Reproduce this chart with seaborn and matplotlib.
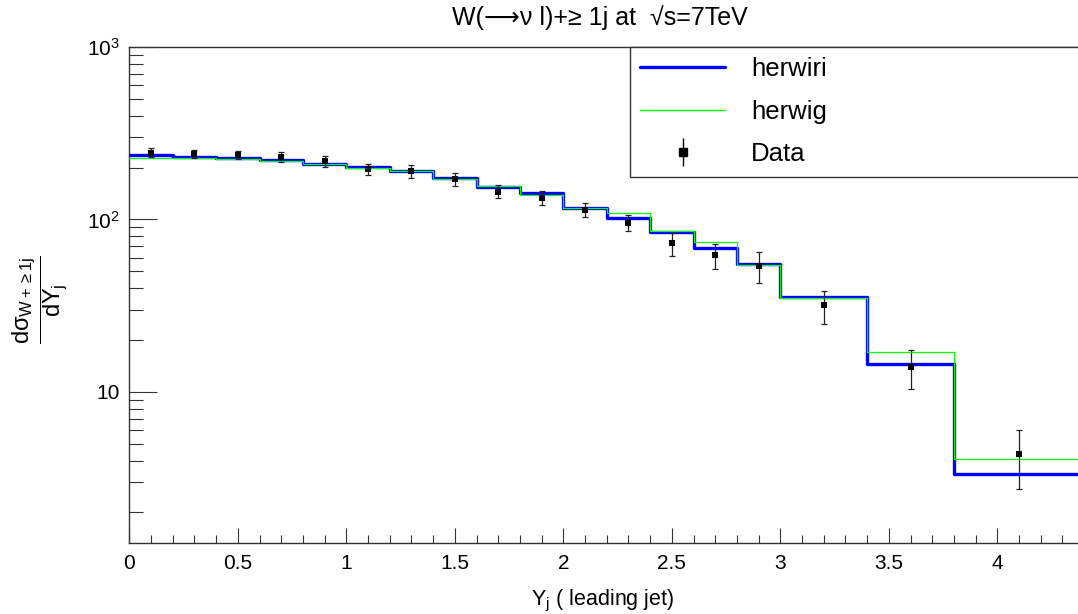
import numpy as np
import pandas as pd
import matplotlib
matplotlib.use("Agg")
import matplotlib.pyplot as plt
from matplotlib.lines import Line2D
from matplotlib.ticker import LogLocator, FixedLocator, FuncFormatter, MultipleLocator, NullFormatter
import seaborn as sns

# ---------------- data ----------------
bin_edges = [0.0, 0.2, 0.4, 0.6, 0.8, 1.0, 1.2, 1.4, 1.6, 1.8, 2.0, 2.2, 2.4, 2.6, 2.8, 3.0, 3.4, 3.8, 4.4]
herwiri = [237, 231, 226, 221, 209, 201, 191, 175, 154, 142, 116, 102, 84.9, 68.5, 55.4, 35.6, 14.5, 3.34]
herwig = [226, 227, 224, 218, 210, 199, 192, 172, 157, 139, 117, 109, 85.2, 74.3, 54.8, 35.1, 17.1, 4.09]
data_x = [0.1, 0.3, 0.5, 0.7, 0.9, 1.1, 1.3, 1.5, 1.7, 1.9, 2.1, 2.3, 2.5, 2.7, 2.9, 3.2, 3.6, 4.1]
data_y = [244, 240, 236, 230, 217, 195, 191, 171, 145, 134, 114, 95.7, 72.6, 61.8, 54, 31.7, 13.9, 4.37]
data_err = [14, 13, 12, 15, 16, 14, 16, 14, 12.5, 12.5, 10.5, 10, 11, 10, 11, 7, 3.5, 1.65]
y_tick_values = [10, 100, 1000]
y_tick_labels = ["10", "$10^{2}$", "$10^{3}$"]
x_tick_values = [0, 0.5, 1, 1.5, 2, 2.5, 3, 3.5, 4]

title = "W(\u27f6\u03bd l)+\u2265 1j at  \u221as=7TeV"
xlabel = r"Y$_{\mathregular{j}}$ ( leading jet)"
ylabel = r"$\dfrac{d\sigma_{W+\geq1j}}{dY_{j}}$"

# ---------------- style ----------------
sns.set_style("white")
plt.rcParams["font.family"] = ["Liberation Sans", "DejaVu Sans"]
plt.rcParams["mathtext.fontset"] = "custom"
plt.rcParams["mathtext.rm"] = "Liberation Sans"
plt.rcParams["mathtext.it"] = "Liberation Sans"
plt.rcParams["mathtext.bf"] = "Liberation Sans:bold"
plt.rcParams["mathtext.sf"] = "Liberation Sans"
plt.rcParams["text.color"] = "black"
plt.rcParams["xtick.labelcolor"] = "black"
plt.rcParams["ytick.labelcolor"] = "black"
plt.rcParams["axes.labelcolor"] = "black"

W, H = 1078, 614
fig = plt.figure(figsize=(W / 100, H / 100), dpi=100)
x0_px, px_per_unit = 129.3, 217.0
xmax = 4.4
ax_w = xmax * px_per_unit
ax_bottom_px, ax_top_px = 543, 47
ax_h = ax_bottom_px - ax_top_px
ax = fig.add_axes([x0_px / W, (H - ax_bottom_px) / H, ax_w / W, ax_h / H])

edges = np.array(bin_edges)
df_wiri = pd.DataFrame({"x": edges, "y": herwiri + [herwiri[-1]]})
df_wig = pd.DataFrame({"x": edges, "y": herwig + [herwig[-1]]})

blue = "#0000ff"
green = "#00ff00"
sns.lineplot(data=df_wiri, x="x", y="y", ax=ax, drawstyle="steps-post", color=blue, lw=2.4,
             sort=False, estimator=None, zorder=3)
sns.lineplot(data=df_wig, x="x", y="y", ax=ax, drawstyle="steps-post", color=green, lw=0.9,
             sort=False, estimator=None, zorder=4)

ax.errorbar(data_x, data_y, yerr=data_err, fmt="none", ecolor="#222222", elinewidth=0.9,
            capsize=2.2, capthick=0.9, zorder=5)
sns.scatterplot(x=data_x, y=data_y, ax=ax, marker="s", s=14, color="black", edgecolor="black",
                linewidth=0, zorder=6)

ax.set_yscale("log")
ax.set_xlim(0, xmax)
ax.set_ylim(1.33, 1000)

# ticks
ax.xaxis.set_major_locator(FixedLocator(x_tick_values))
ax.xaxis.set_major_formatter(FuncFormatter(lambda v, p: f"{v:g}"))
ax.xaxis.set_minor_locator(MultipleLocator(0.1))
ax.yaxis.set_major_locator(FixedLocator(y_tick_values))
ax.yaxis.set_major_formatter(FuncFormatter(lambda v, p: dict(zip(y_tick_values, y_tick_labels)).get(round(v), "")))
ax.yaxis.set_minor_locator(LogLocator(base=10, subs=np.arange(2, 10)))
ax.yaxis.set_minor_formatter(NullFormatter())

tick_col = "#333333"
ax.tick_params(axis="x", which="major", direction="in", length=10.8, width=0.8, color=tick_col,
               labelsize=15, pad=8, bottom=True, top=False)
ax.tick_params(axis="x", which="minor", direction="in", length=5.6, width=0.8, color=tick_col,
               bottom=True, top=False)
ax.tick_params(axis="y", which="major", direction="in", length=20, width=0.8, color=tick_col,
               labelsize=15, pad=7, left=True, right=False)
ax.tick_params(axis="y", which="minor", direction="in", length=10, width=0.8, color=tick_col,
               left=True, right=False)

for side in ["left", "bottom", "top"]:
    ax.spines[side].set_color(tick_col)
    ax.spines[side].set_linewidth(1.0)
ax.spines["right"].set_visible(False)

ax.set_xlabel(xlabel, fontsize=15.5)
ax.xaxis.set_label_coords((603 - x0_px) / ax_w, -(588 - ax_bottom_px) / ax_h)
ax.set_ylabel(ylabel, fontsize=17, rotation=90)
ax.yaxis.set_label_coords((70 - x0_px) / ax_w, (ax_bottom_px - 300) / ax_h)

fig.text(600 / W, 1 - 18 / H, title, ha="center", va="center", fontsize=18)

# legend
h_wiri = Line2D([], [], color=blue, lw=2.4)
h_wig = Line2D([], [], color=green, lw=1.0)
h_bar = Line2D([], [], color="black", marker="|", markersize=20, markeredgewidth=1.0, linestyle="none")
h_pt = Line2D([], [], color="black", marker="s", markersize=6, linestyle="none")
leg = fig.legend([h_wiri, h_wig, (h_bar, h_pt)], ["herwiri", "herwig", "Data"],
                 loc="upper left",
                 bbox_to_anchor=(630 / W, 0.5, (1095 - 630) / W, 1 - 47 / H - 0.5),
                 bbox_transform=fig.transFigure, mode="expand", borderaxespad=0,
                 fancybox=False, edgecolor=tick_col, framealpha=1, fontsize=18.5,
                 handlelength=3.3, handletextpad=1.0, labelspacing=0.72, borderpad=0.4)
leg.get_frame().set_linewidth(1.0)

fig.savefig("out.png", dpi=100)
